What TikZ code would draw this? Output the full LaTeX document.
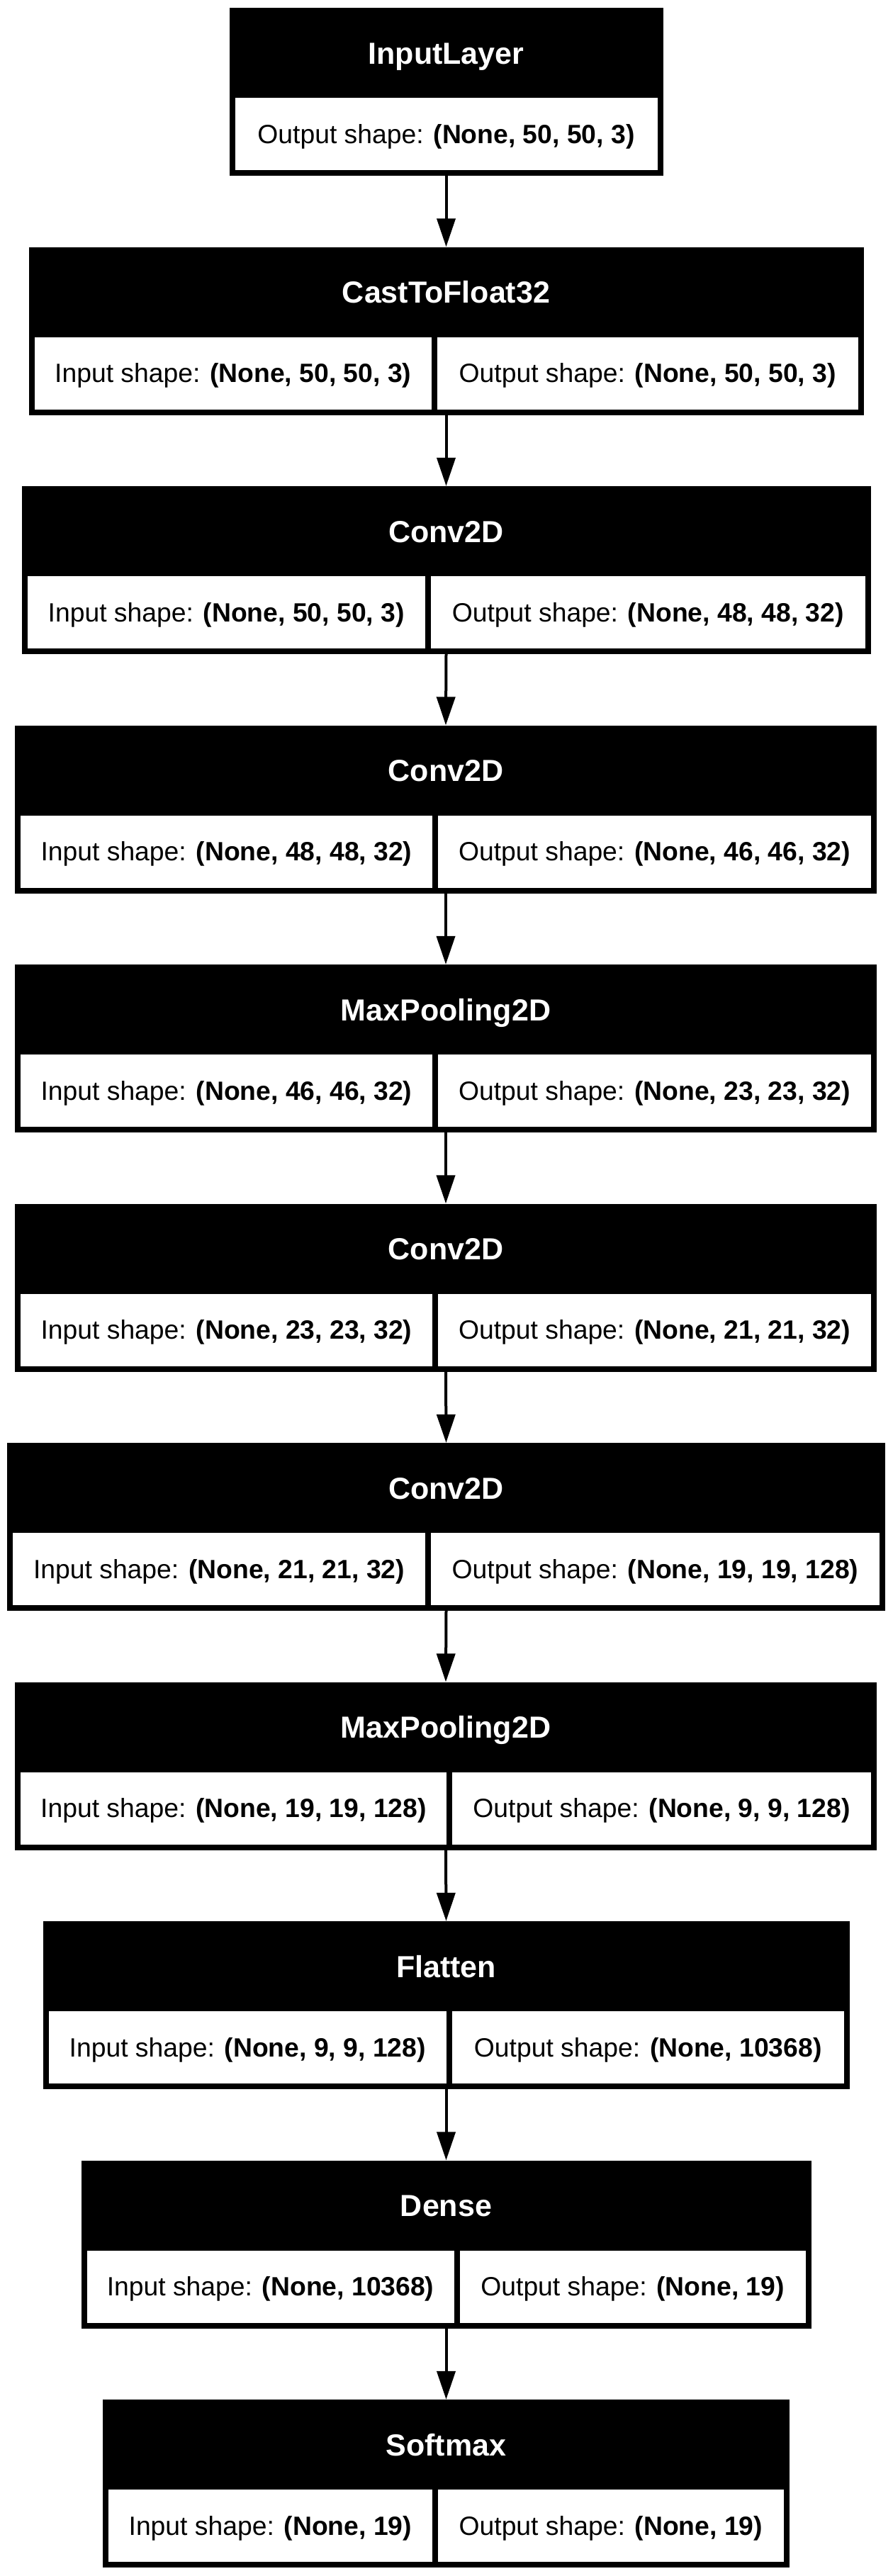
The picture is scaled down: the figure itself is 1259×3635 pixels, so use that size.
\documentclass[tikz,border=0pt]{standalone}
\usepackage{fontspec}
\setmainfont{Liberation Sans}
\usetikzlibrary{arrows.meta,fit}
\tikzset{
  boxfill/.style={fill=black,draw=none,inner sep=0pt},
  cellfill/.style={fill=white,draw=none},
  titletext/.style={text=white,font=\fontsize{43}{46}\selectfont\bfseries,inner sep=0pt,anchor=base},
  celltext/.style={text=black,font=\fontsize{37.3}{40}\selectfont,inner sep=0pt,anchor=base},
  flow/.style={line width=4pt,-{Triangle[length=40pt,width=26pt]}}
}
% #1 name, #2 top, #3 x1, #4 x2, #5 divider, #6 title, #7 left, #8 right
\newcommand\layerbox[8]{%
  \node[boxfill,fit={(#3,#2) (#4,#2+237)}] (#1) {};
  \fill[cellfill] (#3+8,#2+127) rectangle (#5-4,#2+229);
  \fill[cellfill] (#5+4,#2+127) rectangle (#4-8,#2+229);
  \node[titletext] (#1t) at ({(#3+#4)/2},#2+79) {#6};
  \node[celltext] (#1l) at ({(#3+#5+4)/2},#2+191.4) {#7};
  \node[celltext] (#1r) at ({(#4+#5-4)/2},#2+191.4) {#8};
}
\newcommand\singlebox[6]{%
  \node[boxfill,fit={(#3,#2) (#4,#2+237)}] (#1) {};
  \fill[cellfill] (#3+8,#2+127) rectangle (#4-8,#2+229);
  \node[titletext] (#1t) at ({(#3+#4)/2},#2+79) {#5};
  \node[celltext] (#1c) at ({(#3+#4)/2},#2+191.4) {#6};
}
\begin{document}
\begin{tikzpicture}[x=1pt,y=-1pt]
\useasboundingbox[fill=white] (0,0) rectangle (1259,3635);
\singlebox{b1}{11}{323.5}{935.5}{InputLayer}{Output shape: \textbf{(None, 50, 50, 3)}}
\layerbox{b2}{348.5}{40.5}{1218.5}{613}{CastToFloat32}{Input shape: \textbf{(None, 50, 50, 3)}}{Output shape: \textbf{(None, 50, 50, 3)}}
\layerbox{b3}{686}{30.5}{1228.5}{604}{Conv2D}{Input shape: \textbf{(None, 50, 50, 3)}}{Output shape: \textbf{(None, 48, 48, 32)}}
\layerbox{b4}{1023.5}{21}{1237}{614}{Conv2D}{Input shape: \textbf{(None, 48, 48, 32)}}{Output shape: \textbf{(None, 46, 46, 32)}}
\layerbox{b5}{1361}{21}{1237}{614}{MaxPooling2D}{Input shape: \textbf{(None, 46, 46, 32)}}{Output shape: \textbf{(None, 23, 23, 32)}}
\layerbox{b6}{1698.5}{21}{1237}{614}{Conv2D}{Input shape: \textbf{(None, 23, 23, 32)}}{Output shape: \textbf{(None, 21, 21, 32)}}
\layerbox{b7}{2036}{10}{1249}{604}{Conv2D}{Input shape: \textbf{(None, 21, 21, 32)}}{Output shape: \textbf{(None, 19, 19, 128)}}
\layerbox{b8}{2373.5}{21}{1237}{634}{MaxPooling2D}{Input shape: \textbf{(None, 19, 19, 128)}}{Output shape: \textbf{(None, 9, 9, 128)}}
\layerbox{b9}{2711}{60.5}{1198.5}{634}{Flatten}{Input shape: \textbf{(None, 9, 9, 128)}}{Output shape: \textbf{(None, 10368)}}
\layerbox{b10}{3048.5}{114.5}{1144.5}{644.7}{Dense}{Input shape: \textbf{(None, 10368)}}{Output shape: \textbf{(None, 19)}}
\layerbox{b11}{3386}{145}{1114}{613.7}{Softmax}{Input shape: \textbf{(None, 19)}}{Output shape: \textbf{(None, 19)}}
\foreach \a/\b in {b1/b2,b2/b3,b3/b4,b4/b5,b5/b6,b6/b7,b7/b8,b8/b9,b9/b10,b10/b11}
  \draw[flow] (\a.south) -- (\b.north);
\end{tikzpicture}
\end{document}
